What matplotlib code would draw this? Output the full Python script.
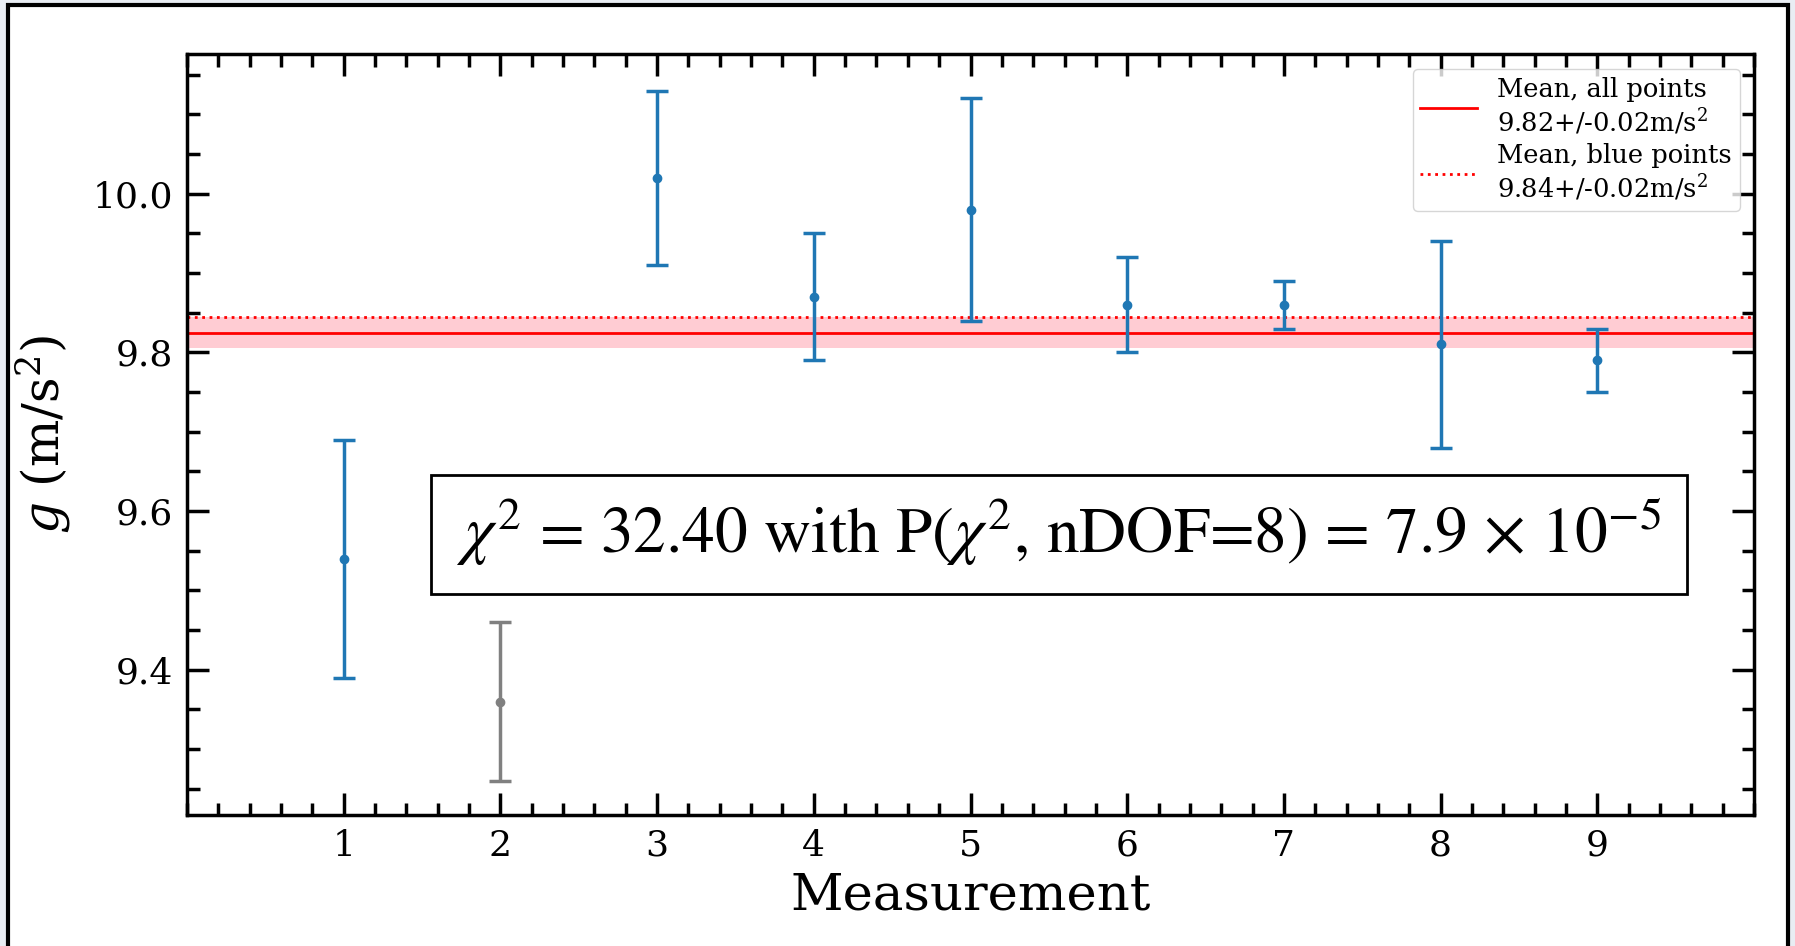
import numpy as np
import matplotlib
matplotlib.use("Agg")
import matplotlib.pyplot as plt
from matplotlib.patches import Rectangle
from matplotlib.ticker import MultipleLocator

plt.rcParams['font.family'] = 'DejaVu Serif'
plt.rcParams['mathtext.fontset'] = 'dejavuserif'

# measurements of g
meas = [1, 2, 3, 4, 5, 6, 7, 8, 9]
g_vals = [9.54, 9.36, 10.02, 9.87, 9.98, 9.86, 9.86, 9.81, 9.79]
g_errs = [0.15, 0.10, 0.11, 0.08, 0.14, 0.06, 0.03, 0.13, 0.04]
grey_idx = [1]  # measurement 2 is excluded (grey)

mean_all = 9.825
mean_all_err = 0.02
mean_blue = 9.845

fig = plt.figure(figsize=(17.95, 9.46), dpi=100)
fig.patch.set_facecolor('#e9edf3')
# white slide frame behind the plot
fig.add_artist(Rectangle((8/1795, -0.05), (1788-8)/1795, 1.05 - 5/946,
                         transform=fig.transFigure, facecolor='white',
                         edgecolor='black', linewidth=3, zorder=-10))

ax = fig.add_axes([187/1795, 1-815/946, (1754-187)/1795, (815-54)/946])

# mean lines and band
ax.axhspan(mean_all - mean_all_err, mean_all + mean_all_err, color='#ffc0c8', alpha=0.8, lw=0)
ax.axhline(mean_all, color='red', lw=2, label='Mean, all points\n9.82+/-0.02m/s$^2$')
ax.axhline(mean_blue, color='red', lw=2, ls=':', label='Mean, blue points\n9.84+/-0.02m/s$^2$')

for i, (x, y, e) in enumerate(zip(meas, g_vals, g_errs)):
    c = 'grey' if i in grey_idx else 'tab:blue'
    ax.errorbar(x, y, yerr=e, fmt='o', color=c, ms=6, capsize=8, elinewidth=2.5, capthick=2.5)

ax.set_xlim(0, 10)
ax.set_ylim(9.217, 10.176)
ax.set_xticks(meas)
ax.xaxis.set_minor_locator(MultipleLocator(0.2))
ax.yaxis.set_major_locator(MultipleLocator(0.2))
ax.yaxis.set_minor_locator(MultipleLocator(0.05))
ax.tick_params(which='both', direction='in', top=True, right=True, width=2.5)
ax.tick_params(which='major', length=16, labelsize=26, pad=10)
ax.tick_params(which='minor', length=9)
for s in ax.spines.values():
    s.set_linewidth(2.5)

ax.set_xlabel('Measurement', fontsize=37, labelpad=6)
ax.set_ylabel('$g$ (m/s$^2$)', fontsize=36, labelpad=14)

leg = ax.legend(loc='upper right', fontsize=18.5, handlelength=2.2, borderpad=0.3,
                labelspacing=0.2, framealpha=0.8, borderaxespad=0,
                bbox_to_anchor=(0.991, 0.98))

# chi2 box
ax.add_patch(Rectangle((0.1556, 0.290), 0.957 - 0.1556, 0.4466 - 0.290,
                       transform=ax.transAxes, facecolor='white', edgecolor='black',
                       lw=2, zorder=5))
ax.text(0.556, 0.372, r'$\chi^2$ = 32.40 with P($\chi^2$, nDOF=8) = 7.9 $\times$ 10$^{-5}$',
        transform=ax.transAxes, ha='center', va='center', fontsize=47,
        family='STIXGeneral', math_fontfamily='stix', zorder=6)

fig.savefig('out.png', dpi=100, facecolor=fig.get_facecolor())
